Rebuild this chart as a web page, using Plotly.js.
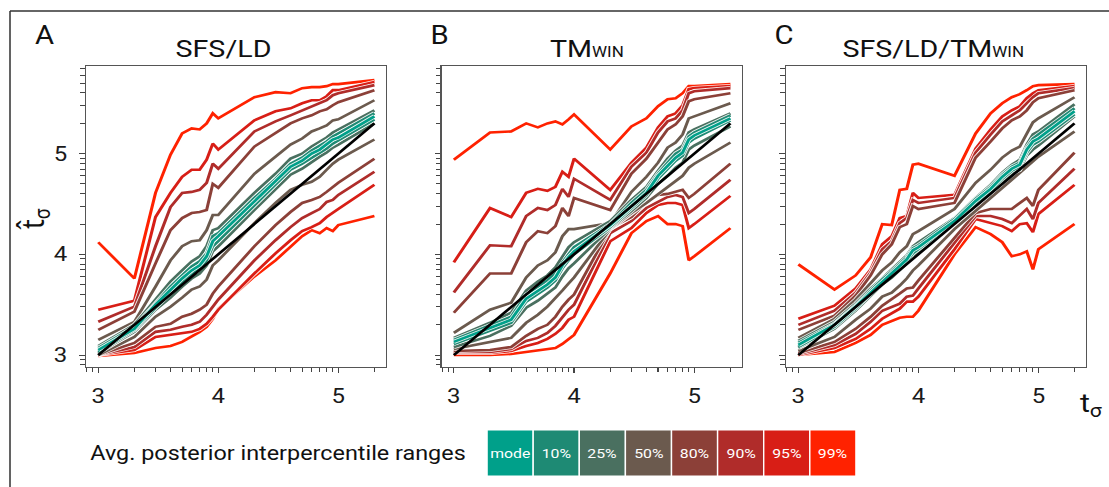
<!DOCTYPE html>
<html>
<head>
<meta charset="utf-8">
<script src="https://cdn.plot.ly/plotly-3.0.1.min.js"></script>
<style>
html,body{margin:0;padding:0;background:#fff;}
#wrap{width:1109px;height:487px;overflow:hidden;}
/* the figure is typeset slightly narrow and widened to its final width */
#chart{height:487px;transform-origin:0 0;}
</style>
</head>
<body>
<div id="wrap"><div id="chart"></div></div>
<script>
// Simulated divergence times (generations); estimates are shown on a log10 scale
const trueTime = [1000,2000,3000,4000,5000,6000,7000,8000,9000,10000,
                  20000,30000,40000,50000,60000,70000,80000,90000,100000,200000];

const rangeNames  = ['mode','10%','25%','50%','80%','90%','95%','99%'];
const rangeColors = ['#00a08a','#1e8a74','#4a7060','#6b5a4e','#8c4038','#b02c2a','#d81e16','#ff2200'];
const panelTitles = ['SFS/LD', 'TM<span style="font-size:14.5px">WIN</span>', 'SFS/LD/TM<span style="font-size:14.5px">WIN</span>'];
const panelLetters = ['A','B','C'];

// ---- SFS/LD : log10 posterior estimate per simulated time ----
const sfsld_hi99 = [4.12,3.76,4.61,4.99,5.20,5.25,5.24,5.30,5.40,5.35,5.56,5.61,5.60,5.65,5.66,5.66,5.67,5.69,5.69,5.73];
const sfsld_hi95 = [3.45,3.54,4.37,4.61,4.77,4.84,4.84,4.94,5.10,5.04,5.33,5.42,5.45,5.50,5.53,5.53,5.57,5.63,5.63,5.71];
const sfsld_hi90 = [3.33,3.48,4.08,4.47,4.61,4.62,4.64,4.71,4.90,4.85,5.22,5.32,5.38,5.43,5.47,5.50,5.53,5.58,5.60,5.68];
const sfsld_hi80 = [3.25,3.43,3.91,4.24,4.36,4.41,4.42,4.44,4.70,4.66,5.07,5.20,5.30,5.35,5.38,5.42,5.44,5.48,5.51,5.63];
const sfsld_hi50 = [3.15,3.33,3.68,3.94,4.08,4.13,4.14,4.24,4.39,4.39,4.80,4.97,5.09,5.15,5.22,5.25,5.28,5.33,5.34,5.53];
const sfsld_hi25 = [3.09,3.30,3.55,3.73,3.84,3.93,3.98,4.08,4.24,4.26,4.61,4.80,4.95,5.00,5.07,5.12,5.16,5.21,5.24,5.43];
const sfsld_hi10 = [3.07,3.28,3.51,3.68,3.79,3.88,3.93,4.01,4.18,4.21,4.56,4.75,4.90,4.96,5.03,5.08,5.12,5.17,5.20,5.40];
const sfsld_mode = [3.05,3.26,3.50,3.65,3.76,3.84,3.89,3.98,4.13,4.18,4.52,4.72,4.87,4.93,5.00,5.04,5.09,5.14,5.16,5.37];
const sfsld_lo10 = [3.03,3.25,3.47,3.61,3.73,3.80,3.86,3.94,4.08,4.13,4.48,4.69,4.84,4.90,4.96,5.01,5.05,5.10,5.13,5.34];
const sfsld_lo25 = [3.02,3.23,3.45,3.57,3.68,3.76,3.81,3.89,4.03,4.08,4.44,4.64,4.79,4.85,4.92,4.97,5.01,5.06,5.09,5.30];
const sfsld_lo50 = [3.00,3.18,3.38,3.48,3.57,3.65,3.68,3.75,3.89,3.94,4.31,4.51,4.64,4.69,4.72,4.77,4.84,4.90,4.94,5.14];
const sfsld_lo80 = [3.00,3.12,3.28,3.31,3.38,3.41,3.45,3.50,3.61,3.68,4.08,4.29,4.42,4.51,4.54,4.57,4.62,4.67,4.71,4.95];
const sfsld_lo90 = [3.00,3.08,3.23,3.25,3.28,3.30,3.33,3.40,3.48,3.55,3.94,4.14,4.27,4.36,4.41,4.45,4.52,4.54,4.59,4.82];
const sfsld_lo95 = [3.00,3.05,3.18,3.20,3.22,3.23,3.26,3.31,3.38,3.45,3.81,4.01,4.14,4.23,4.27,4.31,4.37,4.41,4.45,4.69];
const sfsld_lo99 = [2.99,3.02,3.07,3.09,3.13,3.18,3.23,3.28,3.36,3.46,3.78,3.94,4.08,4.18,4.24,4.21,4.26,4.23,4.29,4.38];

// ---- TM_WIN ----
const tmwin_hi99 = [4.94,5.21,5.22,5.30,5.26,5.30,5.32,5.29,5.34,5.39,5.04,5.27,5.35,5.47,5.54,5.55,5.60,5.67,5.67,5.69];
const tmwin_hi95 = [3.92,4.46,4.37,4.61,4.65,4.63,4.67,4.82,4.77,4.95,4.64,4.91,5.06,5.26,5.37,5.40,5.48,5.64,5.65,5.67];
const tmwin_hi90 = [3.62,4.09,4.08,4.38,4.46,4.44,4.49,4.65,4.57,4.75,4.54,4.87,5.01,5.21,5.32,5.35,5.43,5.60,5.62,5.65];
const tmwin_hi80 = [3.42,3.81,3.81,4.12,4.23,4.21,4.28,4.46,4.38,4.56,4.44,4.80,4.95,5.11,5.24,5.29,5.37,5.52,5.54,5.60];
const tmwin_hi50 = [3.22,3.45,3.52,3.77,3.89,3.94,4.02,4.18,4.25,4.25,4.31,4.62,4.77,4.91,5.06,5.11,5.19,5.35,5.37,5.50];
const tmwin_hi25 = [3.17,3.32,3.42,3.64,3.73,3.79,3.87,3.97,4.07,4.12,4.33,4.54,4.67,4.83,4.95,5.03,5.08,5.21,5.24,5.40];
const tmwin_hi10 = [3.15,3.29,3.38,3.60,3.68,3.74,3.81,3.92,4.00,4.07,4.30,4.51,4.64,4.80,4.91,5.00,5.04,5.17,5.21,5.38];
const tmwin_mode = [3.13,3.27,3.35,3.56,3.64,3.70,3.77,3.89,3.97,4.03,4.29,4.48,4.61,4.78,4.88,4.96,5.01,5.14,5.18,5.35];
const tmwin_lo10 = [3.11,3.24,3.32,3.53,3.61,3.67,3.74,3.86,3.94,4.00,4.27,4.46,4.59,4.75,4.85,4.93,4.98,5.11,5.15,5.33];
const tmwin_lo25 = [3.08,3.19,3.29,3.47,3.54,3.61,3.67,3.78,3.86,3.91,4.26,4.43,4.56,4.70,4.78,4.86,4.91,5.04,5.08,5.27];
const tmwin_lo50 = [3.06,3.13,3.17,3.32,3.40,3.48,3.56,3.64,3.71,3.77,4.25,4.41,4.51,4.60,4.67,4.73,4.78,4.86,4.90,5.11];
const tmwin_lo80 = [3.04,3.05,3.08,3.19,3.26,3.30,3.38,3.48,3.55,3.60,4.26,4.37,4.52,4.59,4.60,4.62,4.64,4.56,4.60,4.90];
const tmwin_lo90 = [3.03,3.03,3.06,3.14,3.17,3.22,3.29,3.37,3.45,3.50,4.21,4.33,4.46,4.52,4.57,4.59,4.57,4.41,4.45,4.74];
const tmwin_lo95 = [3.02,3.02,3.04,3.09,3.12,3.16,3.21,3.27,3.35,3.38,4.13,4.26,4.41,4.49,4.51,4.51,4.49,4.26,4.30,4.58];
const tmwin_lo99 = [3.00,3.00,3.01,3.03,3.05,3.06,3.07,3.11,3.16,3.20,3.81,4.21,4.33,4.38,4.30,4.30,4.28,3.94,3.98,4.26];

// ---- SFS/LD/TM_WIN combined ----
const comb_hi99 = [3.90,3.65,3.79,3.97,4.30,4.29,4.64,4.65,4.89,4.90,4.78,5.20,5.40,5.50,5.56,5.59,5.63,5.67,5.68,5.69];
const comb_hi95 = [3.36,3.49,3.66,3.85,4.10,4.18,4.36,4.38,4.61,4.56,4.59,5.05,5.24,5.37,5.43,5.47,5.55,5.60,5.63,5.67];
const comb_hi90 = [3.30,3.44,3.62,3.82,4.05,4.13,4.31,4.36,4.54,4.51,4.56,5.01,5.19,5.32,5.38,5.43,5.50,5.56,5.60,5.65];
const comb_hi80 = [3.25,3.39,3.59,3.79,4.00,4.10,4.27,4.30,4.48,4.45,4.51,4.96,5.12,5.25,5.33,5.37,5.43,5.51,5.55,5.63];
const comb_hi50 = [3.17,3.36,3.55,3.72,3.84,3.92,4.02,4.08,4.20,4.23,4.45,4.71,4.84,4.96,5.03,5.07,5.19,5.31,5.35,5.56];
const comb_hi25 = [3.14,3.33,3.51,3.66,3.76,3.85,3.93,3.99,4.08,4.12,4.36,4.56,4.69,4.81,4.89,4.94,5.09,5.19,5.22,5.49];
const comb_hi10 = [3.12,3.31,3.49,3.64,3.75,3.83,3.91,3.97,4.06,4.09,4.35,4.55,4.67,4.79,4.87,4.91,5.06,5.15,5.19,5.45];
const comb_mode = [3.10,3.30,3.48,3.62,3.73,3.81,3.89,3.95,4.04,4.07,4.33,4.53,4.65,4.77,4.85,4.89,5.04,5.12,5.15,5.42];
const comb_lo10 = [3.08,3.28,3.46,3.61,3.72,3.80,3.87,3.93,4.01,4.05,4.32,4.51,4.63,4.75,4.83,4.87,5.01,5.09,5.12,5.39];
const comb_lo25 = [3.07,3.26,3.44,3.59,3.70,3.77,3.85,3.91,3.99,4.02,4.31,4.50,4.61,4.73,4.80,4.84,4.98,5.04,5.08,5.37];
const comb_lo50 = [3.04,3.18,3.35,3.46,3.58,3.62,3.69,3.76,3.84,3.89,4.25,4.43,4.55,4.65,4.74,4.81,4.87,4.92,4.97,5.22];
const comb_lo80 = [3.02,3.13,3.26,3.38,3.49,3.56,3.61,3.66,3.67,3.74,4.17,4.41,4.45,4.45,4.45,4.51,4.56,4.48,4.64,5.01];
const comb_lo90 = [3.01,3.10,3.21,3.33,3.44,3.48,3.51,3.58,3.59,3.66,4.12,4.38,4.38,4.35,4.31,4.38,4.45,4.35,4.51,4.85];
const comb_lo95 = [3.00,3.07,3.16,3.26,3.36,3.41,3.46,3.53,3.53,3.58,4.05,4.35,4.31,4.28,4.23,4.30,4.31,4.22,4.40,4.69];
const comb_lo99 = [3.00,3.03,3.12,3.20,3.30,3.34,3.37,3.38,3.38,3.44,4.00,4.27,4.20,4.12,3.98,4.00,4.03,3.85,4.05,4.30];

// Assemble the three panels: index 0 = mode, 1..7 = [lower, upper] of each range
const panelSeries = [
  [sfsld_mode, [sfsld_lo10,sfsld_hi10], [sfsld_lo25,sfsld_hi25], [sfsld_lo50,sfsld_hi50],
   [sfsld_lo80,sfsld_hi80], [sfsld_lo90,sfsld_hi90], [sfsld_lo95,sfsld_hi95], [sfsld_lo99,sfsld_hi99]],
  [tmwin_mode, [tmwin_lo10,tmwin_hi10], [tmwin_lo25,tmwin_hi25], [tmwin_lo50,tmwin_hi50],
   [tmwin_lo80,tmwin_hi80], [tmwin_lo90,tmwin_hi90], [tmwin_lo95,tmwin_hi95], [tmwin_lo99,tmwin_hi99]],
  [comb_mode, [comb_lo10,comb_hi10], [comb_lo25,comb_hi25], [comb_lo50,comb_hi50],
   [comb_lo80,comb_hi80], [comb_lo90,comb_hi90], [comb_lo95,comb_hi95], [comb_lo99,comb_hi99]]
];

const W = 1109, H = 487;
const STRETCH = 1.17;              // horizontal widening of the whole figure
const W0 = W / STRETCH;            // width the figure is laid out at
const chartDiv = document.getElementById('chart');
chartDiv.style.width = W0 + 'px';
chartDiv.style.transform = 'scale(' + STRETCH + ',1)';

// positions below are given on the final 1109 x 487 canvas
const px = v => v / W;
const py = v => 1 - v / H;
const FONT = 'Roboto, "Noto Sans", sans-serif';

const logTrue = trueTime.map(t => Math.log10(t));

const traces = [];
panelSeries.forEach((series, p) => {
  const xa = p === 0 ? 'x' : 'x' + (p + 1);
  const ya = p === 0 ? 'y' : 'y' + (p + 1);
  const addLine = (vals, color) => {
    // thin white halo under each coloured curve
    traces.push({x: logTrue, y: vals, xaxis: xa, yaxis: ya, type: 'scatter', mode: 'lines',
      line: {color: 'rgba(255,255,255,0.9)', width: 4.2}, hoverinfo: 'skip', showlegend: false});
    traces.push({x: logTrue, y: vals, xaxis: xa, yaxis: ya, type: 'scatter', mode: 'lines',
      line: {color: color, width: 2.6}, showlegend: false});
  };
  for (let r = 7; r >= 1; r--) {
    addLine(series[r][0], rangeColors[r]);
    addLine(series[r][1], rangeColors[r]);
  }
  addLine(series[0], rangeColors[0]);
  // identity: estimate equals simulated time
  traces.push({x: logTrue, y: logTrue, xaxis: xa, yaxis: ya, type: 'scatter', mode: 'lines',
    line: {color: '#000', width: 2.5}, showlegend: false});
});

// minor ticks at 2..9 x 10^n on the log10 scale
const minorVals = [];
for (let n = 2; n <= 5; n++) for (let k = 2; k <= 9; k++) {
  const v = Math.log10(k * Math.pow(10, n));
  if (v > 2.88 && v < 5.9) minorVals.push(v);
}

const xRange = [2.898, 5.398];
const yRange = [2.881, 5.870];
const domainsX = [[px(86), px(386)], [px(441.5), px(742)], [px(786), px(1086)]];
const domainY = [py(367), py(66)];

function axis(domain, anchor, range, showLabels, isX) {
  return {
    domain: domain, anchor: anchor, range: range,
    showline: true, mirror: true, linecolor: '#555', linewidth: 1,
    showgrid: false, zeroline: false, fixedrange: true,
    tickmode: 'array', tickvals: [3, 4, 5], ticktext: ['3', '4', '5'],
    ticks: 'outside', ticklen: 5, tickwidth: 1, tickcolor: '#444',
    showticklabels: showLabels,
    ticklabelstandoff: isX ? 5 : 6,
    tickfont: {family: FONT, size: 20.5, color: '#1a1a1a'},
    minor: {tickmode: 'array', tickvals: minorVals, ticks: 'outside', ticklen: 4,
            tickwidth: 1, tickcolor: '#444', showgrid: false}
  };
}

const layout = {
  width: W0, height: H,
  margin: {l: 0, r: 0, t: 0, b: 0, pad: 0},
  paper_bgcolor: '#fff', plot_bgcolor: '#fff',
  font: {family: FONT, color: '#1a1a1a'},
  showlegend: false,
  xaxis:  axis(domainsX[0], 'y',  xRange, true, true),
  yaxis:  axis(domainY, 'x',  yRange, true, false),
  xaxis2: axis(domainsX[1], 'y2', xRange, true, true),
  yaxis2: axis(domainY, 'x2', yRange, false, false),
  xaxis3: axis(domainsX[2], 'y3', xRange, true, true),
  yaxis3: axis(domainY, 'x3', yRange, false, false),
  shapes: [
    // outer figure frame
    {type: 'line', xref: 'paper', yref: 'paper', x0: px(10), x1: px(1115), y0: py(11), y1: py(11),
     line: {color: '#333', width: 1.5}},
    {type: 'line', xref: 'paper', yref: 'paper', x0: px(10), x1: px(10), y0: py(11), y1: py(495),
     line: {color: '#333', width: 1.3}}
  ],
  annotations: []
};

// panel letters and titles
const letterX = [33, 428, 772];
const titleX = [223.5, 587, 933];
for (let p = 0; p < 3; p++) {
  layout.annotations.push({xref: 'paper', yref: 'paper', x: px(letterX[p]), y: py(36),
    xanchor: 'left', yanchor: 'middle', showarrow: false, text: panelLetters[p],
    font: {family: FONT, size: 25, color: '#111'}});
  layout.annotations.push({xref: 'paper', yref: 'paper', x: px(titleX[p]), y: py(48),
    xanchor: 'center', yanchor: 'middle', showarrow: false, text: panelTitles[p],
    font: {family: FONT, size: 24.5, color: '#111'}});
}

// axis titles
layout.annotations.push({xref: 'paper', yref: 'paper', x: px(35), y: py(219),
  xanchor: 'center', yanchor: 'middle', showarrow: false, textangle: -90,
  text: 't\u0302<sub>σ</sub>', font: {family: FONT, size: 27, color: '#111'}});
layout.annotations.push({xref: 'paper', yref: 'paper', x: px(1091), y: py(404),
  xanchor: 'center', yanchor: 'middle', showarrow: false,
  text: 't<sub>σ</sub>', font: {family: FONT, size: 26, color: '#111'}});

// colour key for the interpercentile ranges
layout.annotations.push({xref: 'paper', yref: 'paper', x: px(88), y: py(453),
  xanchor: 'left', yanchor: 'middle', showarrow: false,
  text: 'Avg. posterior interpercentile ranges', font: {family: FONT, size: 20, color: '#111'}});
const keyLeft = 487, keyW = 46.1, keyTop = 430, keyBottom = 476;
rangeNames.forEach((name, i) => {
  const x0 = keyLeft + i * keyW;
  layout.shapes.push({type: 'rect', xref: 'paper', yref: 'paper',
    x0: px(x0), x1: px(x0 + keyW), y0: py(keyBottom), y1: py(keyTop),
    fillcolor: rangeColors[i], line: {color: '#fff', width: 1.2}});
  layout.annotations.push({xref: 'paper', yref: 'paper', x: px(x0 + keyW / 2), y: py((keyTop + keyBottom) / 2),
    xanchor: 'center', yanchor: 'middle', showarrow: false, text: name,
    font: {family: FONT, size: 13.5, color: '#fff'}});
});

Plotly.newPlot('chart', traces, layout, {displayModeBar: false, staticPlot: true});
</script>
</body>
</html>
